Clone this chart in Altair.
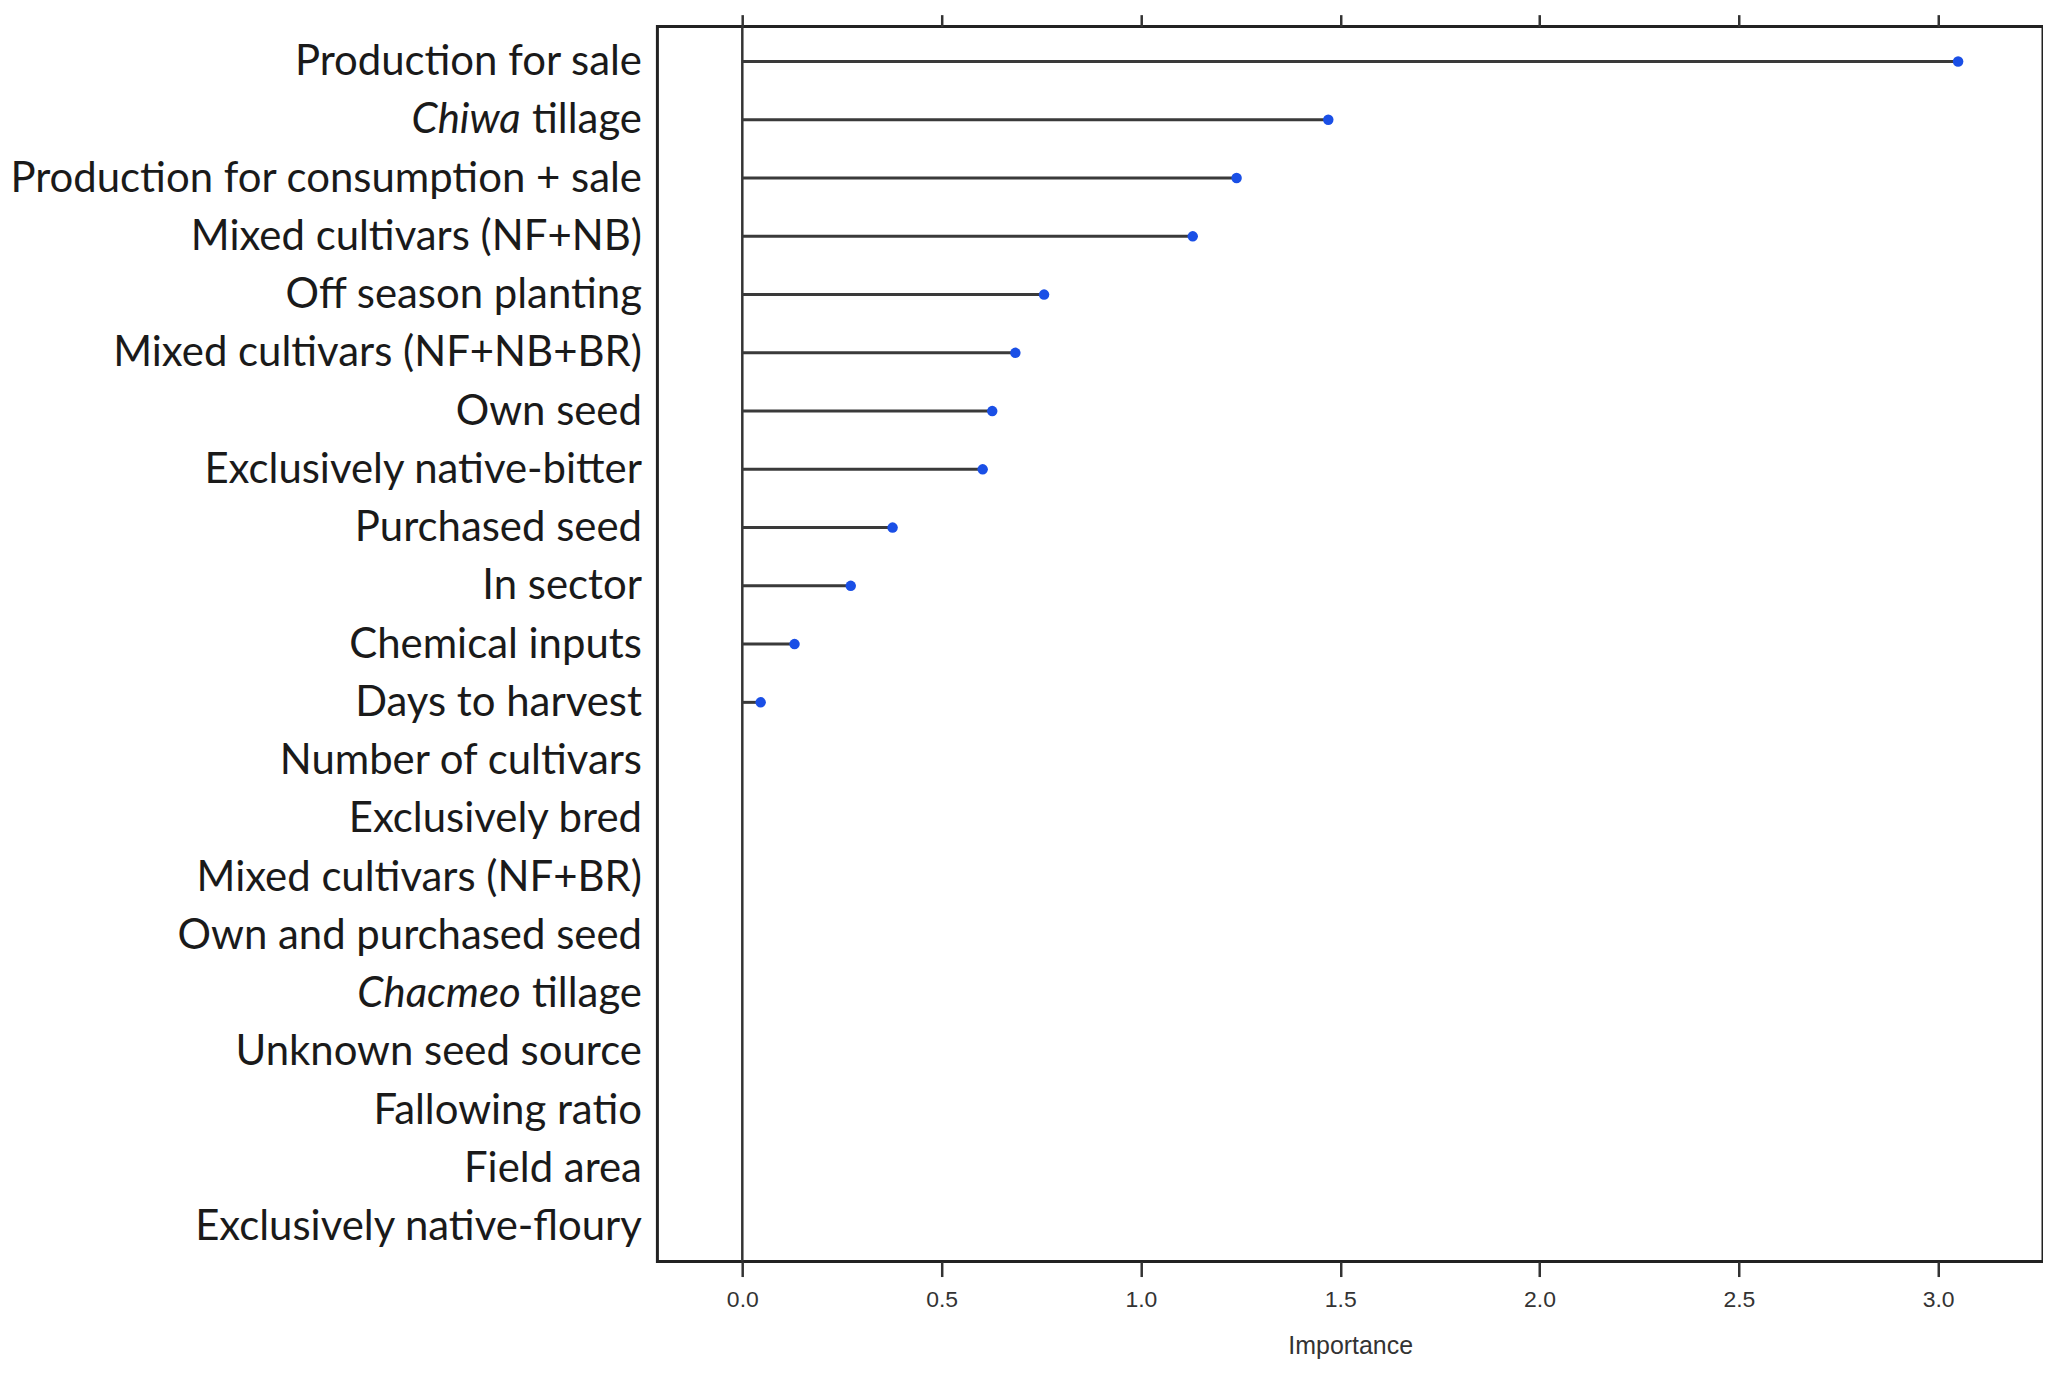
import altair as alt
import pandas as pd

labels = [
    "Production for sale",
    "Chiwa tillage",
    "Production for consumption + sale",
    "Mixed cultivars (NF+NB)",
    "Off season planting",
    "Mixed cultivars (NF+NB+BR)",
    "Own seed",
    "Exclusively native-bitter",
    "Purchased seed",
    "In sector",
    "Chemical inputs",
    "Days to harvest",
    "Number of cultivars",
    "Exclusively bred",
    "Mixed cultivars (NF+BR)",
    "Own and purchased seed",
    "Chacmeo tillage",
    "Unknown seed source",
    "Fallowing ratio",
    "Field area",
    "Exclusively native-floury",
]
importance = [3.05, 1.47, 1.24, 1.13, 0.757, 0.685, 0.627, 0.603, 0.377, 0.272,
              0.131, 0.046, 0, 0, 0, 0, 0, 0, 0, 0, 0]

italic_rows = ["Chiwa tillage", "Chacmeo tillage"]
italic_words = ["Chiwa", "Chacmeo"]

tick_values = [0.0, 0.5, 1.0, 1.5, 2.0, 2.5, 3.0]

df = pd.DataFrame({"label": labels, "value": importance})
dfi = pd.DataFrame({"label": italic_rows, "word": italic_words})

LABEL_FONT = "Lato"
LABEL_SIZE = 42
PAD = 16
AXIS_FONT = "Liberation Sans"

label_expr = "datum.value == 'Chiwa tillage' || datum.value == 'Chacmeo tillage' ? 'tillage' : datum.value"

xscale = alt.Scale(domain=[-0.213, 3.263], nice=False, zero=False)
yscale = alt.Scale(type="point", padding=0.6, domain=labels)

y_enc = alt.Y("label:N", scale=yscale, sort=labels,
              axis=alt.Axis(title=None, ticks=False, domain=False, labelFont=LABEL_FONT,
                            labelFontSize=LABEL_SIZE, labelColor="#1a1a1a", labelPadding=PAD,
                            labelLimit=1000, labelExpr=label_expr))

base = alt.Chart(df)

x_bottom = alt.Axis(title="Importance", values=tick_values, format=".1f", domain=False,
                    tickColor="#333333", tickWidth=2.5, tickSize=15, labelFont=AXIS_FONT,
                    labelFontSize=23, labelColor="#333333", labelPadding=12, titleFont=AXIS_FONT,
                    titleFontSize=25, titleFontWeight="normal", titleColor="#333333", titlePadding=22,
                    grid=False)
x_top = alt.Axis(title=None, orient="top", values=tick_values, labels=False, domain=False,
                 tickColor="#333333", tickWidth=2.5, tickSize=12, grid=False)

segments = base.transform_filter("datum.value > 0").transform_calculate(base0="0").mark_rule(
    color="#3a3a3a", strokeWidth=3
).encode(
    x=alt.X("base0:Q", scale=xscale, axis=x_bottom),
    x2="value:Q",
    y=y_enc,
)

dots = base.transform_filter("datum.value > 0").mark_circle(
    color="#1a4fe6", size=110, opacity=1
).encode(
    x=alt.X("value:Q", scale=xscale, axis=x_top),
    y=alt.Y("label:N", scale=yscale, sort=labels),
)

zero_line = alt.Chart(pd.DataFrame({"z": [0.0]})).mark_rule(color="#333333", strokeWidth=2.5).encode(
    x=alt.X("z:Q", scale=xscale, axis=None)
)

italic = alt.Chart(dfi).mark_text(
    font=LABEL_FONT, fontSize=LABEL_SIZE, fontStyle="italic", align="right", baseline="middle",
    color="#1a1a1a", dx=-(PAD + 121)
).encode(
    x=alt.value(0),
    y=alt.Y("label:N", scale=yscale, sort=labels),
    text="word:N",
)

chart = alt.layer(zero_line, segments, dots, italic).resolve_axis(x="independent").properties(
    width=1389, height=1238, padding={"left": 0, "top": 3, "right": 0, "bottom": 0},
    background="white"
).configure_view(stroke="#222222", strokeWidth=3)

chart.save("out.html", embed_options={"renderer": "svg", "actions": False})
